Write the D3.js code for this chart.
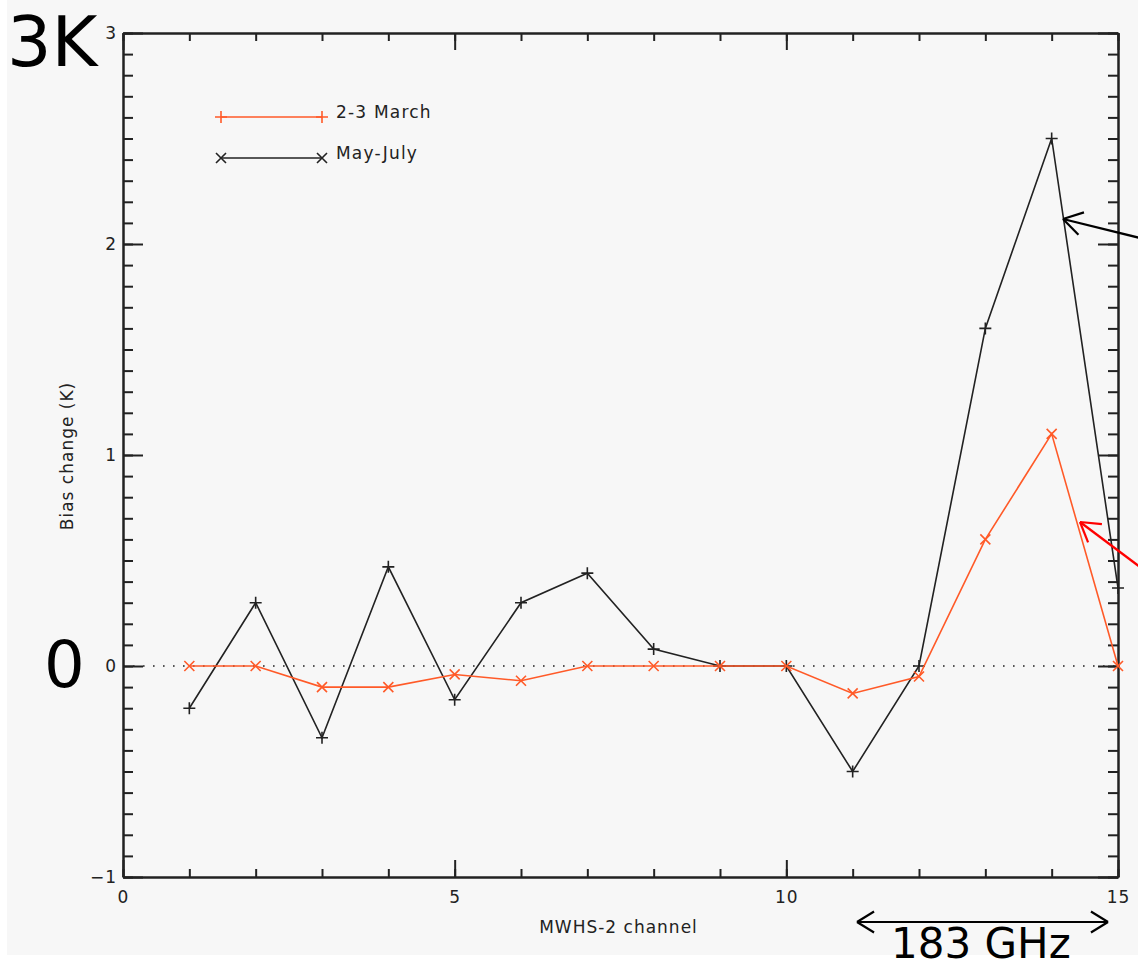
<!DOCTYPE html>
<html>
<head>
<meta charset="utf-8">
<script src="https://cdn.jsdelivr.net/npm/d3@7"></script>
<style>
  body { margin: 0; background: #fff; }
  text { font-family: "DejaVu Sans", sans-serif; }
</style>
</head>
<body>
<div class="vis-bias"></div>
<script>
const channels = [1, 2, 3, 4, 5, 6, 7, 8, 9, 10, 11, 12, 13, 14, 15];
const march = [0, 0, -0.10, -0.10, -0.04, -0.07, 0, 0, 0, 0, -0.13, -0.05, 0.60, 1.10, 0];
const mayJuly = [-0.20, 0.30, -0.34, 0.47, -0.16, 0.30, 0.44, 0.08, 0, 0, -0.50, 0, 1.60, 2.50, 0.37];
const xTicks = [0, 5, 10, 15];
const yTicks = [-1, 0, 1, 2, 3];
const legendNames = ["2-3 March", "May-July"];

const width = 1138, height = 968;
const red = "#ff5a28", dark = "#222";
const labelFont = "17px";

const svg = d3.select(".vis-bias")
    .append("svg")
    .attr("width", width)
    .attr("height", height);

svg.append("rect")
    .attr("x", 7).attr("y", 0)
    .attr("width", width - 7).attr("height", 955)
    .attr("fill", "#f7f7f7");

const x = d3.scaleLinear().domain([0, 15]).range([123, 1118]);
const y = d3.scaleLinear().domain([-1, 3]).range([877, 33]);

// axes: IDL-style box with ticks on all four sides
const drawAxis = (g, axis) => {
    g.call(axis);
    g.select(".domain").attr("stroke", dark).attr("stroke-width", 2);
    g.selectAll(".tick line").attr("stroke", dark).attr("stroke-width", 2);
    g.selectAll(".tick text")
        .attr("fill", dark)
        .attr("font-family", "DejaVu Sans, sans-serif")
        .attr("font-size", labelFont)
        .attr("letter-spacing", "1px");
};

const xMinor = d3.range(0, 16, 1);
const yMinor = d3.range(-1, 3.001, 0.1).map(v => Math.round(v * 10) / 10);

svg.append("g").attr("transform", `translate(0,${y(-1)})`)
    .call(g => drawAxis(g, d3.axisBottom(x).tickValues(xMinor).tickSize(-8).tickSizeOuter(0).tickFormat("")));
svg.append("g").attr("transform", `translate(0,${y(-1)})`)
    .call(g => drawAxis(g, d3.axisBottom(x).tickValues(xTicks).tickSize(-17).tickSizeOuter(0).tickPadding(14).tickFormat(d3.format("d"))));
svg.append("g").attr("transform", `translate(0,${y(3)})`)
    .call(g => drawAxis(g, d3.axisTop(x).tickValues(xMinor).tickSize(-8).tickSizeOuter(0).tickFormat("")));
svg.append("g").attr("transform", `translate(0,${y(3)})`)
    .call(g => drawAxis(g, d3.axisTop(x).tickValues(xTicks).tickSize(-17).tickSizeOuter(0).tickFormat("")));

svg.append("g").attr("transform", `translate(${x(0)},0)`)
    .call(g => drawAxis(g, d3.axisLeft(y).tickValues(yMinor).tickSize(-10).tickSizeOuter(0).tickFormat("")));
svg.append("g").attr("transform", `translate(${x(0)},0)`)
    .call(g => drawAxis(g, d3.axisLeft(y).tickValues(yTicks).tickSize(-20).tickSizeOuter(0).tickPadding(6)
        .tickFormat(d => d < 0 ? "\u2212" + Math.abs(d) : d)));
svg.append("g").attr("transform", `translate(${x(15)},0)`)
    .call(g => drawAxis(g, d3.axisRight(y).tickValues(yMinor).tickSize(-10).tickSizeOuter(0).tickFormat("")));
svg.append("g").attr("transform", `translate(${x(15)},0)`)
    .call(g => drawAxis(g, d3.axisRight(y).tickValues(yTicks).tickSize(-20).tickSizeOuter(0).tickFormat("")));

svg.append("text")
    .attr("x", (x(0) + x(15)) / 2 - 2).attr("y", 933)
    .attr("text-anchor", "middle").attr("font-size", labelFont).attr("fill", dark)
    .attr("letter-spacing", "1px")
    .text("MWHS-2 channel");

svg.append("text")
    .attr("transform", `translate(73,456) rotate(-90)`)
    .attr("text-anchor", "middle").attr("font-size", labelFont).attr("fill", dark)
    .attr("letter-spacing", "1px")
    .text("Bias change (K)");

// zero reference line
svg.append("line")
    .attr("x1", x(0)).attr("x2", x(15))
    .attr("y1", y(0)).attr("y2", y(0))
    .attr("stroke", dark).attr("stroke-width", 1.6)
    .attr("stroke-dasharray", "1.6,8.4");

const line = d3.line()
    .x((d, i) => x(channels[i]))
    .y(d => y(d));

const plusPath = s => `M${-s},0H${s}M0,${-s}V${s}`;
const crossPath = s => `M${-s},${-s}L${s},${s}M${-s},${s}L${s},${-s}`;

const series = [
    {values: mayJuly, color: dark, marker: plusPath(6)},
    {values: march, color: red, marker: crossPath(5)}
];

series.forEach(s => {
    svg.append("path")
        .attr("d", line(s.values))
        .attr("fill", "none")
        .attr("stroke", s.color)
        .attr("stroke-width", 1.6);
    svg.append("g").selectAll("path")
        .data(s.values)
        .join("path")
        .attr("transform", (d, i) => `translate(${x(channels[i])},${y(d)})`)
        .attr("d", s.marker)
        .attr("fill", "none")
        .attr("stroke", s.color)
        .attr("stroke-width", 1.6);
});

// legend (markers as in the original figure)
const legend = svg.append("g");
const legendItems = [
    {name: legendNames[0], color: red, marker: plusPath(6), y: 117, ty: 118},
    {name: legendNames[1], color: dark, marker: crossPath(5), y: 158, ty: 159}
];
legendItems.forEach(l => {
    legend.append("line")
        .attr("x1", 221).attr("x2", 322)
        .attr("y1", l.y).attr("y2", l.y)
        .attr("stroke", l.color).attr("stroke-width", 1.6);
    [221, 322].forEach(px => legend.append("path")
        .attr("transform", `translate(${px},${l.y})`)
        .attr("d", l.marker)
        .attr("fill", "none")
        .attr("stroke", l.color)
        .attr("stroke-width", 1.6));
    legend.append("text")
        .attr("x", 336).attr("y", l.ty)
        .attr("font-size", labelFont).attr("fill", dark)
        .attr("letter-spacing", "1.2px")
        .text(l.name);
});

// annotations
const drawArrow = (x1, y1, x2, y2, color, head) => {
    const a = Math.atan2(y1 - y2, x1 - x2);
    const g = svg.append("g").attr("stroke", color).attr("stroke-width", 2.2).attr("fill", "none");
    g.append("line").attr("x1", x1).attr("y1", y1).attr("x2", x2).attr("y2", y2);
    [0.55, -0.55].forEach(da => g.append("line")
        .attr("x1", x2).attr("y1", y2)
        .attr("x2", x2 + head * Math.cos(a + da)).attr("y2", y2 + head * Math.sin(a + da)));
};

drawArrow(1140, 238, 1063, 219, "#000", 22);
drawArrow(1140, 567, 1080, 522, "#f00", 22);
drawArrow(1108, 922, 857, 922, "#000", 20);
drawArrow(857, 922, 1108, 922, "#000", 20);

svg.append("text")
    .attr("x", 7).attr("y", 66)
    .attr("font-family", "Liberation Sans, Arial, sans-serif")
    .attr("font-size", "70px").attr("fill", "#000")
    .text("3K");

svg.append("text")
    .attr("x", 44).attr("y", 687)
    .attr("font-family", "Liberation Sans, Arial, sans-serif")
    .attr("font-size", "64px").attr("fill", "#000")
    .text("0");

svg.append("text")
    .attr("x", 891).attr("y", 958)
    .attr("font-family", "Liberation Sans, Arial, sans-serif")
    .attr("font-size", "42px").attr("fill", "#000")
    .text("183 GHz");
</script>
</body>
</html>
